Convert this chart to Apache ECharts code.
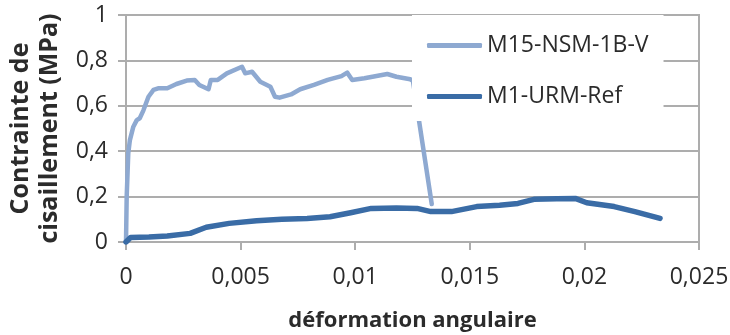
<!DOCTYPE html>
<html>
<head>
<meta charset="utf-8">
<script src="https://cdn.jsdelivr.net/npm/echarts@6/dist/echarts.min.js"></script>
<style>
html,body{margin:0;padding:0;background:#fff;}
#c{width:730px;height:335px;}
</style>
</head>
<body>
<div id="c"></div>
<script>
// Data
const seriesNames = ['M15-NSM-1B-V', 'M1-URM-Ref'];
const m15X = [0, 0.00003, 0.0001, 0.00017, 0.00032, 0.00047, 0.0006, 0.00076, 0.00098, 0.0012, 0.0014, 0.0018, 0.0022, 0.00265, 0.003, 0.0032, 0.0036, 0.0037, 0.004, 0.0044, 0.00506, 0.0052, 0.0055, 0.00586, 0.0063, 0.0065, 0.0067, 0.0072, 0.0076, 0.0082, 0.0088, 0.0094, 0.00965, 0.00987, 0.0104, 0.0114, 0.0118, 0.0124, 0.01252, 0.01334];
const m15Y = [0, 0.2, 0.392, 0.449, 0.508, 0.537, 0.545, 0.58, 0.64, 0.67, 0.677, 0.677, 0.696, 0.711, 0.714, 0.692, 0.673, 0.714, 0.714, 0.743, 0.772, 0.743, 0.75, 0.706, 0.684, 0.64, 0.636, 0.65, 0.673, 0.692, 0.714, 0.731, 0.746, 0.714, 0.721, 0.74, 0.728, 0.717, 0.71, 0.167];
const m1X = [0, 0.0002, 0.001, 0.0018, 0.0028, 0.0035, 0.0045, 0.0057, 0.0068, 0.0079, 0.0089, 0.0098, 0.0107, 0.0118, 0.0127, 0.0133, 0.0142, 0.0153, 0.0163, 0.0171, 0.0178, 0.0188, 0.0196, 0.0201, 0.0213, 0.0222, 0.0233];
const m1Y = [0, 0.02, 0.022, 0.026, 0.038, 0.065, 0.082, 0.094, 0.1, 0.104, 0.111, 0.129, 0.148, 0.15, 0.148, 0.134, 0.134, 0.156, 0.162, 0.17, 0.188, 0.19, 0.192, 0.173, 0.156, 0.134, 0.104];
const xTicks = [0, 0.005, 0.01, 0.015, 0.02, 0.025];
const yTicks = [0, 0.2, 0.4, 0.6, 0.8, 1];
const xTitle = 'déformation angulaire';
const yTitle = 'Contrainte de\ncisaillement (MPa)';

const pair = (xs, ys) => xs.map((x, i) => [x, ys[i]]);
const fmt = v => String(+v.toFixed(4)).replace('.', ',');
const gridGray = '#ADADAD';
const textCol = '#2b2b2b';
const font = 'Open Sans';
const lightCol = '#8EA9D1';
const darkCol = '#3A6CA6';

const chart = echarts.init(document.getElementById('c'), null, {renderer: 'canvas'});
chart.setOption({
  animation: false,
  backgroundColor: '#fff',
  grid: {left: 126, right: 31, top: 15, bottom: 93, show: true, borderColor: gridGray, borderWidth: 2, backgroundColor: 'transparent', containLabel: false, outerBoundsMode: 'none'},
  legend: {
    orient: 'vertical', left: 412, top: 15,
    padding: [19, 15, 13, 15],
    itemWidth: 55, itemHeight: 5, itemGap: 28,
    icon: 'roundRect',
    backgroundColor: '#fff', z: 10,
    textStyle: {fontSize: 23, fontFamily: font, color: textCol},
    data: [
      {name: seriesNames[0], icon: 'roundRect', itemStyle: {color: lightCol}},
      {name: seriesNames[1], icon: 'roundRect', itemStyle: {color: darkCol}}
    ]
  },
  xAxis: {
    type: 'value', min: xTicks[0], max: xTicks[xTicks.length - 1], interval: xTicks[1] - xTicks[0],
    splitLine: {show: false},
    axisLine: {show: true, lineStyle: {color: gridGray, width: 2}},
    axisTick: {show: true, length: 8, lineStyle: {color: gridGray, width: 2}},
    axisLabel: {fontSize: 23, fontFamily: font, color: textCol, margin: 24, formatter: fmt},
    name: xTitle, nameLocation: 'middle', nameGap: 68,
    nameTextStyle: {fontSize: 22, fontWeight: 'bold', fontFamily: font, color: textCol}
  },
  yAxis: {
    type: 'value', min: yTicks[0], max: yTicks[yTicks.length - 1], interval: yTicks[1] - yTicks[0],
    splitLine: {show: true, lineStyle: {color: gridGray, width: 2}},
    axisLine: {show: true, lineStyle: {color: gridGray, width: 2}},
    axisTick: {show: true, length: 8, lineStyle: {color: gridGray, width: 2}},
    axisLabel: {fontSize: 23, fontFamily: font, color: textCol, margin: 18, formatter: fmt},
    name: yTitle, nameLocation: 'middle', nameRotate: 90, nameGap: 62,
    nameTextStyle: {fontSize: 25, fontWeight: 'bold', fontFamily: font, color: textCol, lineHeight: 29}
  },
  series: [
    {name: seriesNames[0], type: 'line', data: pair(m15X, m15Y), showSymbol: false, symbol: 'none', z: 2,
     lineStyle: {color: lightCol, width: 4.5, cap: 'round', join: 'round'}, itemStyle: {color: lightCol}},
    {name: seriesNames[1], type: 'line', data: pair(m1X, m1Y), showSymbol: false, symbol: 'none', z: 3,
     lineStyle: {color: darkCol, width: 5.5, cap: 'round', join: 'round'}, itemStyle: {color: darkCol}}
  ]
});
</script>
</body>
</html>
